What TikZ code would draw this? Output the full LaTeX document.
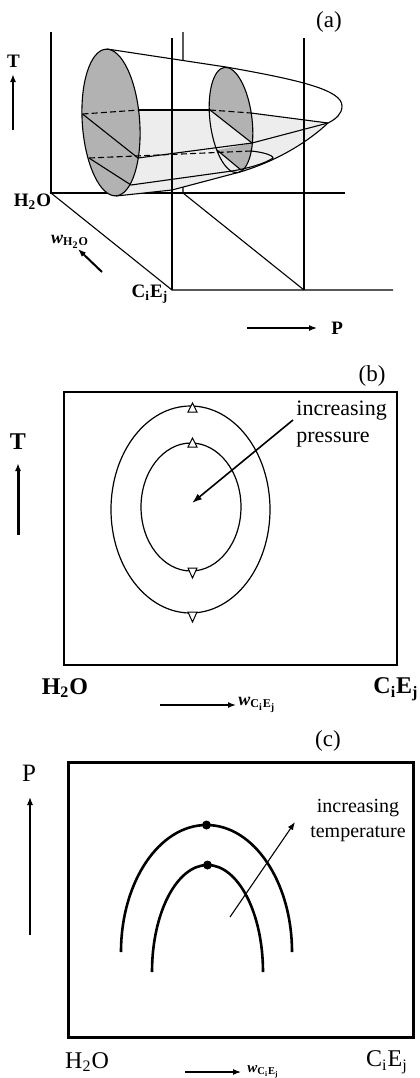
\documentclass[tikz,border=0pt]{standalone}
\usepackage{fontspec}
\setmainfont{Liberation Serif}
\usetikzlibrary{arrows.meta, positioning}

\definecolor{loopgray}{gray}{0.70}
\definecolor{slicegray}{gray}{0.93}

\begin{document}
\begin{tikzpicture}[
    x=0.5pt, y=-0.5pt,
    >={Latex[length=4pt, width=3pt]},
    every node/.style={inner sep=0pt, align=center},
    tag/.style={font=\fontsize{11.5}{13}\selectfont},
    axis/.style={font=\bfseries\fontsize{9.5}{11}\selectfont},
    bigaxis/.style={font=\bfseries\fontsize{12}{14}\selectfont},
    plainaxis/.style={font=\fontsize{12.5}{14}\selectfont},
    note/.style={font=\fontsize{11}{13.5}\selectfont},
    wlabel/.style={font=\bfseries\fontsize{9}{10}\selectfont},
    edge/.style={line width=0.55pt},
    hidden/.style={line width=0.55pt, dash pattern=on 3pt off 1.6pt},
    marker/.style={draw, fill=white, line width=0.5pt},
    line/.style={->, line width=0.7pt},
    heavy/.style={->, line width=1.3pt}
]

\useasboundingbox (0,0) rectangle (419,1078);

% ---------- (a) ----------
\node[tag] (taga) at (329,22) {(a)};

% back walls and floor
\draw[edge] (51,32) -- (51,193) -- (345,193);
\draw[edge] (183,32) -- (183,193) -- (304,290);
\draw[edge] (51,193) -- (172,290) -- (393,290);

% cone body
\fill[white] (107,49) -- (226,67) .. controls (300,80) and (342,90) .. (342,106)
    .. controls (342,114) and (336,119) .. (328,123)
    .. controls (310,140) and (280,160) .. (240,172) -- (172,190) -- (116,196) -- (83,120) -- cycle;
\fill[slicegray] (82.5,114) -- (139,110) -- (210,110) -- (251,113) -- (328,123)
    .. controls (310,140) and (280,160) .. (240,172) -- (172,190) -- (116,196) -- cycle;
\draw[edge] (107,49) -- (226,67) .. controls (300,80) and (342,90) .. (342,106)
    .. controls (342,114) and (336,119) .. (328,123)
    .. controls (310,140) and (280,160) .. (240,172) -- (172,190) -- (116,196);

% the two loops
\filldraw[edge, fill=loopgray, rotate around={4:(111,122.5)}] (111,122.5) ellipse [x radius=28.7, y radius=73.5];
\fill[loopgray, rotate around={7:(231,120)}] (231,120) ellipse [x radius=21, y radius=53];
\begin{scope}
  \clip[rotate around={7:(231,120)}] (231,120) ellipse [x radius=21, y radius=53];
  \fill[slicegray] (200,110) -- (210,110) -- (252,143) -- (217,150) -- (241,170) -- (241,185) -- (200,185) -- cycle;
\end{scope}
\draw[edge, rotate around={7:(231,120)}] (231,120) ellipse [x radius=21, y radius=53];

% upper slice
\draw[hidden] (82.5,114) -- (139,110);
\draw[edge] (139,110) -- (210,110);
\draw[hidden] (210,110) -- (251,113);
\draw[edge] (251,113) -- (328,123);
\draw[edge] (82.5,114) -- (138,158) -- (252,143) -- (328,123);
\draw[edge] (210,110) -- (252,143);

% lower slice
\draw[hidden] (89,158) -- (251,151);
\draw[edge] (251,151) .. controls (262,152) and (273,155) .. (273,158)
    .. controls (266,163) and (250,168) .. (232,171) -- (131,185) -- (89,158);
\draw[edge] (217,150) -- (241,170);

% front walls
\draw[edge] (172,38) -- (172,290);
\draw[edge] (304,38) -- (304,290);

% axis labels
\node[axis] (Ta) at (13.5,61) {T};
\coordinate (Ta0) at (13,130);
\coordinate (Ta1) at (13,74);
\draw[heavy] (Ta0) -- (Ta1);
\node[axis] (watera) at (32.5,202) {H\textsubscript{2}O};
\node[axis] (surfa) at (150,294) {C\textsubscript{i}E\textsubscript{j}};
\node[wlabel] (wwater) at (70,242) {\textit{w}\textsubscript{H\textsubscript{2}O}};
\coordinate (ww0) at (102,272);
\coordinate (ww1) at (78,249);
\draw[heavy, line width=1pt] (ww0) -- (ww1);
\coordinate (Pa0) at (247,328);
\coordinate (Pa1) at (317,328);
\draw[line] (Pa0) -- (Pa1);
\node[axis, right=7pt of Pa1] (Pa) {P};

% ---------- (b) ----------
\node[tag] (tagb) at (372,376) {(b)};
\draw[line width=0.75pt] (64,392) rectangle (397,665);
\draw[line width=0.6pt] (190.5,509.5) ellipse [x radius=79.5, y radius=103.5];
\draw[line width=0.6pt] (191,507) ellipse [x radius=50, y radius=64];

% loop ends
\draw[marker] (192.5,403) -- (188,412) -- (197,412) -- cycle;
\draw[marker] (192.5,438) -- (188,447) -- (197,447) -- cycle;
\draw[marker] (192.5,578) -- (188,568) -- (197,568) -- cycle;
\draw[marker] (192.5,622) -- (188,612) -- (197,612) -- cycle;

\node[note, align=left, anchor=west] (pressure) at (296,424) {increasing\\pressure};
\coordinate (pb0) at (293,420);
\coordinate (pb1) at (192,503);
\draw[line, line width=0.8pt, >={Latex[length=5pt, width=3.5pt]}] (pb0) -- (pb1);

\node[bigaxis] (Tb) at (18,442) {T};
\coordinate (Tb0) at (18,535);
\coordinate (Tb1) at (18,463);
\draw[heavy, line width=1.5pt] (Tb0) -- (Tb1);
\node[bigaxis] (waterb) at (65,688) {H\textsubscript{2}O};
\node[bigaxis] (surfb) at (396,689) {C\textsubscript{i}E\textsubscript{j}};
\coordinate (wb0) at (160,705);
\coordinate (wb1) at (236,705);
\draw[line] (wb0) -- (wb1);
\node[wlabel, right=1pt of wb1] (wsurfb) {\textit{w}\textsubscript{C\textsubscript{i}E\textsubscript{j}}};

% ---------- (c) ----------
\node[tag] (tagc) at (328,741) {(c)};
\draw[line width=1.5pt] (68,762) rectangle (413,1037);
\draw[line width=1.3pt] (121,952) arc[start angle=180, end angle=360, x radius=85.5, y radius=127];
\draw[line width=1.3pt] (152,972) arc[start angle=180, end angle=360, x radius=55.5, y radius=107];
\coordinate (topout) at (206.5,825);
\coordinate (topin) at (207.5,865);
\fill (topout) circle [radius=4.5];
\fill (topin) circle [radius=4.5];

\node[note, font=\fontsize{10}{12.5}\selectfont] (temp) at (358,820) {increasing\\temperature};
\coordinate (tc0) at (230,917);
\coordinate (tc1) at (295,822);
\draw[line, line width=0.55pt] (tc0) -- (tc1);

\node[plainaxis] (Pc) at (29,773) {P};
\coordinate (Pc0) at (30,935);
\coordinate (Pc1) at (30,797);
\draw[line, line width=0.55pt] (Pc0) -- (Pc1);
\node[plainaxis, font=\fontsize{12}{14}\selectfont] (waterc) at (87,1062) {H\textsubscript{2}O};
\node[plainaxis, font=\fontsize{12}{14}\selectfont] (surfc) at (387,1062) {C\textsubscript{i}E\textsubscript{j}};
\coordinate (wc0) at (185,1072);
\coordinate (wc1) at (241,1072);
\draw[line, line width=0.55pt] (wc0) -- (wc1);
\node[wlabel, font=\bfseries\fontsize{7.5}{9}\selectfont, right=3pt of wc1] (wsurfc) {\textit{w}\textsubscript{C\textsubscript{i}E\textsubscript{j}}};

\end{tikzpicture}
\end{document}
